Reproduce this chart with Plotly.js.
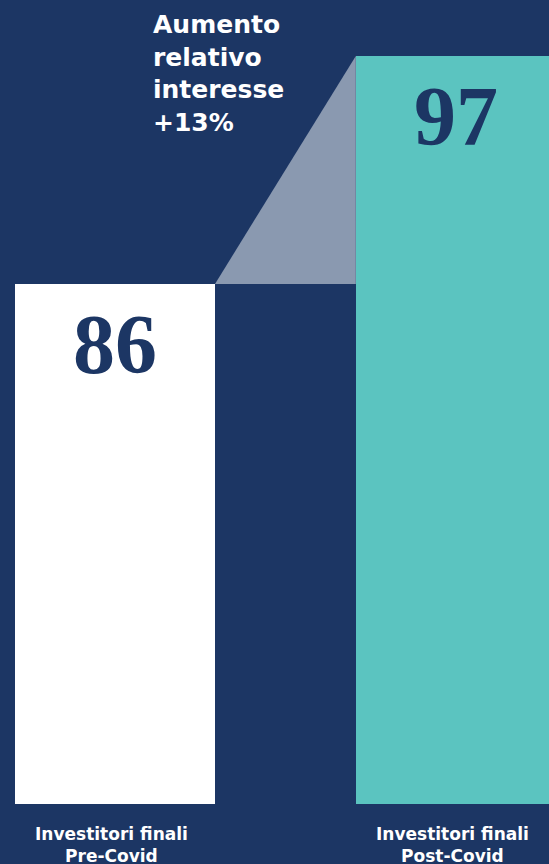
<!DOCTYPE html>
<html>
<head>
<meta charset="utf-8">
<script src="https://cdn.plot.ly/plotly-3.0.1.min.js"></script>
<style>
html,body{margin:0;padding:0;background:#1c3664;}
#chart{width:549px;height:864px;}
</style>
</head>
<body>
<div id="chart"></div>
<script>
// Data
const categories = [0, 1];
const categoryLabels = ["Investitori finali<br>Pre-Covid", "Investitori finali<br>Post-Covid"];
const values = [86, 97];
const valueLabels = ["86", "97"];
const increaseLabel = "Aumento<br>relativo<br>interesse<br>+13%";

const navy = "#1c3664";
const barColors = ["#ffffff", "#5bc4c0"];
const barWidth = 0.587;

const bars = {
  type: "bar",
  x: categories,
  y: values,
  width: barWidth,
  marker: {color: barColors, line: {width: 0}},
  hoverinfo: "skip",
  showlegend: false
};

// connector triangle between the two bar tops
const half = barWidth / 2;
const tri = {
  type: "scatter",
  mode: "lines",
  x: [categories[0] + half, categories[1] - half, categories[1] - half, categories[0] + half],
  y: [values[0], values[1], values[0], values[0]],
  fill: "toself",
  fillcolor: "#8a99b0",
  line: {width: 0, color: "#8a99b0"},
  hoverinfo: "skip",
  showlegend: false
};

const annotations = [];
categories.forEach((c, i) => {
  annotations.push({
    x: c, y: values[i], xref: "x", yref: "y",
    text: valueLabels[i], showarrow: false,
    yanchor: "middle", yshift: -61,
    font: {family: "Liberation Serif, serif", size: 84, color: navy, weight: 700}
  });
  annotations.push({
    x: c - 0.01, y: 0, xref: "x", yref: "paper",
    text: "<b>" + categoryLabels[i] + "</b>", showarrow: false,
    yanchor: "top", yshift: -18,
    font: {family: "DejaVu Sans, sans-serif", size: 17, color: "#ffffff"}
  });
});
annotations.push({
  x: 151 / 549, y: 1, xref: "paper", yref: "paper",
  xanchor: "left", yanchor: "top", align: "left",
  text: "<b>" + increaseLabel + "</b>", showarrow: false, yshift: -8,
  font: {family: "DejaVu Sans, sans-serif", size: 25, color: "#ffffff"}
});

const layout = {
  width: 549, height: 864,
  margin: {l: 0, r: 0, t: 0, b: 60, pad: 0},
  paper_bgcolor: navy,
  plot_bgcolor: navy,
  xaxis: {range: [-0.337, 1.273], showgrid: false, zeroline: false, showticklabels: false, ticks: "", fixedrange: true},
  yaxis: {range: [60.91, 99.70], showgrid: false, zeroline: false, showticklabels: false, ticks: "", fixedrange: true},
  annotations: annotations,
  bargap: 0
};

Plotly.newPlot("chart", [tri, bars], layout, {displayModeBar: false, staticPlot: true});
</script>
</body>
</html>
